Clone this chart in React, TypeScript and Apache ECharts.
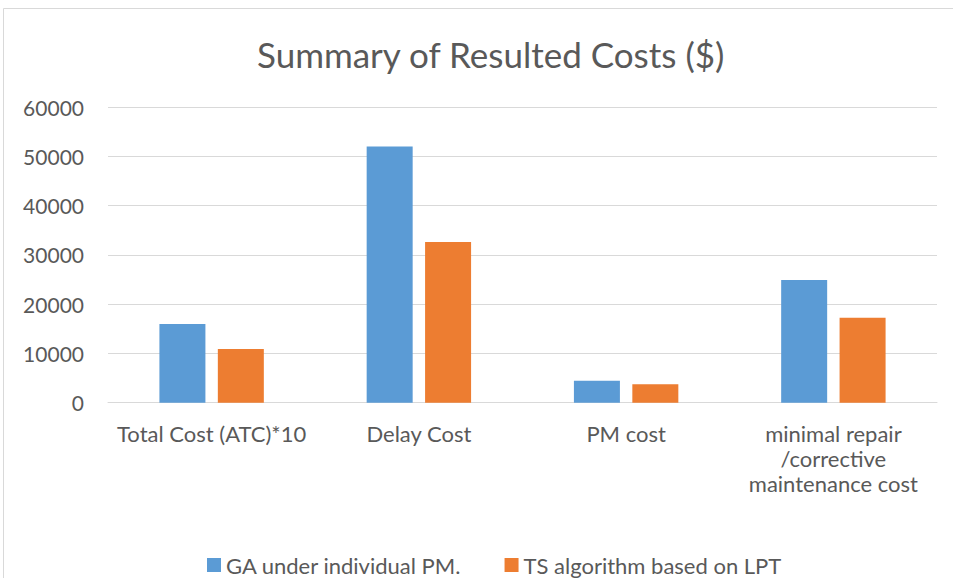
import React, { useEffect, useRef } from "react";
import * as echarts from "echarts";

const categories = [
  "Total Cost (ATC)*10",
  "Delay Cost",
  "PM cost",
  "minimal repair\n/corrective\nmaintenance cost",
];
const seriesNames = ["GA under individual PM.", "TS algorithm based on LPT"];
const gaValues = [15950, 52000, 4450, 24900];
const tsValues = [10900, 32600, 3720, 17250];
const yMin = 0;
const yMax = 60000;
const yStep = 10000;

export default function App() {
  const ref = useRef<HTMLDivElement>(null);
  useEffect(() => {
    document.body.style.margin = "0";
    const chart = echarts.init(ref.current!, null, { renderer: "svg" });
    const font = "Lato, 'Open Sans', sans-serif";
    chart.setOption({
      animation: false,
      backgroundColor: "#ffffff",
      textStyle: { fontFamily: font },
      title: {
        text: "Summary of Resulted Costs ($)",
        left: 252,
        top: 31,
        textStyle: { fontFamily: font, fontSize: 35, fontWeight: "normal", color: "#595959" },
      },
      graphic: [
        {
          type: "rect",
          shape: { x: 3.5, y: 8.5, width: 960, height: 580 },
          style: { fill: "none", stroke: "#d9d9d9", lineWidth: 1 },
          silent: true,
        },
      ],
      legend: {
        top: 549,
        left: 202,
        itemWidth: 14,
        itemHeight: 14,
        itemGap: 43,
        icon: "rect",
        textStyle: { fontFamily: font, fontSize: 22, color: "#595959" },
        data: seriesNames,
      },
      grid: { left: 108, right: 16, top: 107, bottom: 578 - 402.7 },
      xAxis: {
        type: "category",
        data: categories,
        axisLine: { lineStyle: { color: "#d9d9d9", width: 1 } },
        axisTick: { show: false },
        axisLabel: {
          fontFamily: font,
          fontSize: 22,
          color: "#595959",
          margin: 18,
          lineHeight: 25,
          interval: 0,
        },
      },
      yAxis: {
        type: "value",
        min: yMin,
        max: yMax,
        interval: yStep,
        axisLine: { show: false },
        axisTick: { show: false },
        splitLine: { lineStyle: { color: "#d9d9d9", width: 1 } },
        axisLabel: {
          fontFamily: font,
          fontSize: 21,
          color: "#595959",
          margin: 24,
          formatter: (v: number) => String(v),
        },
      },
      series: [
        {
          name: seriesNames[0],
          type: "bar",
          data: gaValues,
          barWidth: 46,
          barGap: "27%",
          itemStyle: { color: "#5b9bd5" },
        },
        {
          name: seriesNames[1],
          type: "bar",
          data: tsValues,
          barWidth: 46,
          itemStyle: { color: "#ed7d31" },
        },
      ],
    });
    return () => chart.dispose();
  }, []);
  return <div ref={ref} style={{ width: 953, height: 578 }} />;
}
